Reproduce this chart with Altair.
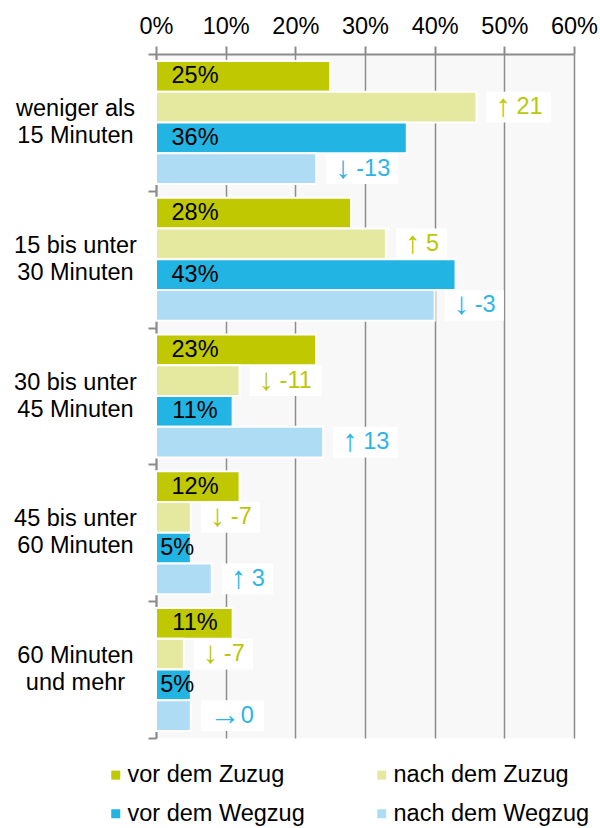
import altair as alt
import pandas as pd

# Commute time before and after moving (share of movers, in %)
categories = [
    "weniger als\n15 Minuten",
    "15 bis unter\n30 Minuten",
    "30 bis unter\n45 Minuten",
    "45 bis unter\n60 Minuten",
    "60 Minuten\nund mehr",
]
series = ["vor dem Zuzug", "nach dem Zuzug", "vor dem Wegzug", "nach dem Wegzug"]

vor_zuzug = [25, 28, 23, 12, 11]
change_zuzug = [21, 5, -11, -7, -7]
vor_wegzug = [36, 43, 11, 5, 5]
change_wegzug = [-13, -3, 13, 3, 0]

colors = ["#bfc800", "#e5e99f", "#22b4e3", "#afdcf5"]
olive_text = "#bcc60a"
blue_text = "#2bb5e6"
gray = "#8c8c8c"
font = "Liberation Sans"
fs = 23.5

rows = []
for i, cat in enumerate(categories):
    rows.append({"category": cat, "series": series[0], "value": vor_zuzug[i], "change": None})
    rows.append({"category": cat, "series": series[1], "value": vor_zuzug[i] + change_zuzug[i], "change": change_zuzug[i]})
    rows.append({"category": cat, "series": series[2], "value": vor_wegzug[i], "change": None})
    rows.append({"category": cat, "series": series[3], "value": vor_wegzug[i] + change_wegzug[i], "change": change_wegzug[i]})
df = pd.DataFrame(rows)

W, H = 418, 684
PXU = W / 60.0  # pixels per percentage point

x_scale = alt.Scale(domain=[0, 60], nice=False, zero=True)
x_axis = alt.Axis(
    orient="top", values=[0, 10, 20, 30, 40, 50, 60], labelExpr="datum.value + '%'",
    title=None, grid=True, gridColor=gray, gridWidth=1.5, tickSize=8, tickColor=gray,
    tickWidth=2, domainColor=gray, domainWidth=2, labelPadding=8, labelOverlap=False,
    labelFlush=False, labelFont=font, labelFontSize=fs, labelColor="black",
)
y_enc = alt.Y(
    "category:N", sort=categories,
    scale=alt.Scale(domain=categories, paddingInner=0, paddingOuter=0),
    axis=alt.Axis(
        title=None, tickBand="extent", labelExpr="split(datum.label, '\\n')",
        labelAlign="center", labelBaseline="middle", labelPadding=73, labelLineHeight=27,
        labelOffset=-14, labelLimit=400, tickSize=8, tickColor=gray, tickWidth=2,
        domainColor=gray, domainWidth=2, grid=False, labelOverlap=False,
        labelFont=font, labelFontSize=fs, labelColor="black",
    ),
)
yoff_enc = alt.YOffset(
    "series:N", sort=series,
    scale=alt.Scale(domain=series, paddingInner=0, paddingOuter=0.224),
)

base = alt.Chart(df)

bars = base.mark_bar(stroke="white", strokeWidth=2).encode(
    y=y_enc,
    yOffset=yoff_enc,
    x=alt.X("value:Q", scale=x_scale, axis=x_axis),
    color=alt.Color(
        "series:N", sort=series,
        scale=alt.Scale(domain=series, range=colors),
        legend=alt.Legend(
            title=None, orient="none", legendX=-52, legendY=709, columns=2,
            columnPadding=65, rowPadding=14, symbolType="square", symbolSize=81,
            symbolStrokeWidth=0, labelOffset=0, labelLimit=400, direction="horizontal",
            labelFont=font, labelFontSize=fs, labelColor="black",
        ),
    ),
)

# Percentage labels inside the "vor" bars
pct = base.transform_filter(
    "indexof(datum.series, 'vor') == 0"
).transform_calculate(
    lx="min(5.6, datum.value * 0.61)", txt="datum.value + '%'"
).mark_text(align="center", baseline="middle", fontSize=fs, font=font, color="black").encode(
    y=y_enc, yOffset=yoff_enc,
    x=alt.X("lx:Q", scale=x_scale, axis=x_axis),
    text="txt:N",
)

# Change labels (arrow + difference) next to the "nach" bars, on white boxes
change_calc = dict(
    em="(datum.change == 0 ? 1.0 : 0.5) + 0.278 + (datum.change < 0 ? 0.333 : 0)"
       " + 0.556 * length(toString(abs(datum.change)))",
    bx=f"datum.value + 10 / {PXU}",
    ax=f"datum.value + 19 / {PXU}",
    nx=f"datum.value + (datum.change == 0 ? 50 : 40) / {PXU}",
    arrow="datum.change > 0 ? '\u2191' : datum.change < 0 ? '\u2193' : '\u2192'",
    num="'' + datum.change",
)
nach = base.transform_filter("indexof(datum.series, 'nach') == 0").transform_calculate(**change_calc)
text_color = alt.condition(
    "datum.series == 'nach dem Zuzug'", alt.value(olive_text), alt.value(blue_text)
)

boxes = nach.transform_calculate(
    bx2=f"datum.bx + (20 + {fs} * datum.em) / {PXU}"
).mark_bar(fill="white", strokeWidth=0).encode(
    y=y_enc, yOffset=yoff_enc,
    x=alt.X("bx:Q", scale=x_scale, axis=x_axis),
    x2="bx2:Q",
)

arrows = nach.mark_text(align="left", baseline="middle", fontSize=31, font=font).encode(
    y=y_enc, yOffset=yoff_enc,
    x=alt.X("ax:Q", scale=x_scale, axis=x_axis),
    text="arrow:N",
    color=text_color,
)

numbers = nach.mark_text(align="left", baseline="middle", fontSize=fs, font=font).encode(
    y=y_enc, yOffset=yoff_enc,
    x=alt.X("nx:Q", scale=x_scale, axis=x_axis),
    text="num:N",
    color=text_color,
)

chart = alt.layer(bars, boxes, pct, arrows, numbers).properties(
    width=W, height=H,
    background="white",
    autosize=alt.AutoSizeParams(type="none"),
    padding={"left": 156, "top": 54, "right": 600 - 156 - W, "bottom": 828 - 54 - H},
).configure_view(
    fill="#f8f8f8", stroke=None
)

chart.save("out.html", embed_options={"renderer": "svg", "actions": False})
